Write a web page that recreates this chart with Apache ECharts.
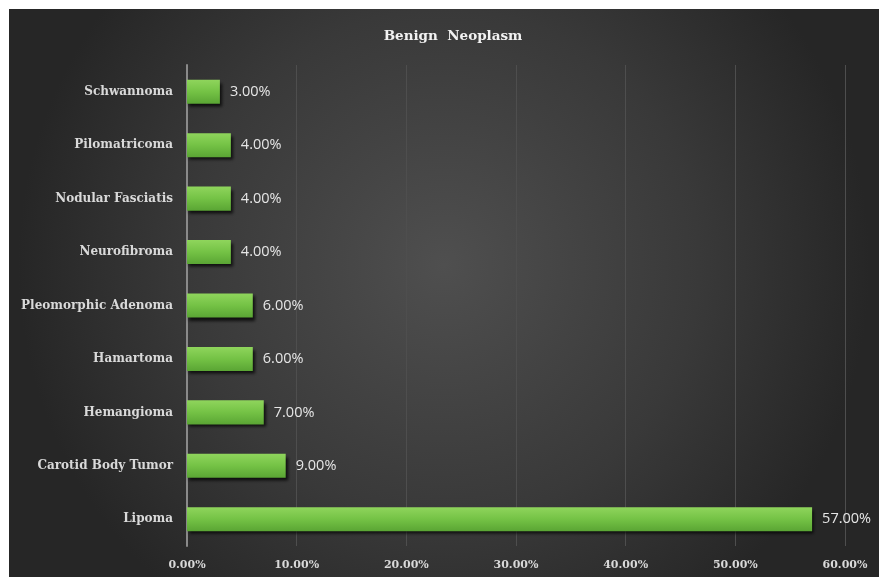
<!DOCTYPE html>
<html>
<head>
<meta charset="utf-8">
<title>Benign Neoplasm</title>
<script src="https://cdn.jsdelivr.net/npm/echarts@6/dist/echarts.min.js"></script>
<style>
  html, body { margin: 0; padding: 0; background: #ffffff; }
  #chart { width: 879px; height: 577px; }
</style>
</head>
<body>
<div id="chart"></div>
<script>
// Tumour types, listed bottom to top along the category axis
const categories = [
  'Lipoma', 'Carotid Body Tumor', 'Hemangioma', 'Hamartoma',
  'Pleomorphic Adenoma', 'Neurofibroma', 'Nodular Fasciatis',
  'Pilomatricoma', 'Schwannoma'
];
// Share of cases, percent
const shares = [57, 9, 7, 6, 6, 4, 4, 4, 3];
// Value axis tick range
const axisMin = 0;
const axisMax = 60;
const axisStep = 10;

const chart = echarts.init(document.getElementById('chart'), null, { renderer: 'canvas' });

const labelSerif = '"DejaVu Serif", "Liberation Serif", serif';

chart.setOption({
  backgroundColor: '#ffffff',
  animation: false,
  graphic: [{
    type: 'rect',
    left: 9, top: 9,
    shape: { width: 870, height: 568 },
    silent: true,
    z: -10,
    style: {
      fill: {
        type: 'radial', x: 0.5, y: 0.45, r: 0.75,
        colorStops: [
          { offset: 0, color: '#4f4f4f' },
          { offset: 0.6, color: '#393939' },
          { offset: 1, color: '#262626' }
        ]
      }
    }
  }],
  title: {
    text: 'Benign  Neoplasm',
    left: 448, top: 24,
    textAlign: 'center',
    textStyle: {
      color: '#f2f2f2',
      fontFamily: '"DejaVu Serif", serif',
      fontWeight: 'bold',
      fontSize: 13.5
    }
  },
  grid: { left: 187, right: 34, top: 65, bottom: 31, containLabel: false },
  xAxis: {
    type: 'value',
    min: axisMin, max: axisMax, interval: axisStep,
    axisLine: { show: false },
    axisTick: { show: false },
    splitLine: { show: true, lineStyle: { color: '#4e4e4e', width: 1 } },
    axisLabel: {
      color: '#d9d9d9',
      fontFamily: labelSerif,
      fontWeight: 'bold',
      fontSize: 11,
      margin: 14,
      formatter: v => v.toFixed(2) + '%'
    }
  },
  yAxis: {
    type: 'category',
    data: categories,
    axisLine: { show: true, lineStyle: { color: '#8a8a8a', width: 2 } },
    axisTick: { show: false },
    axisLabel: {
      color: '#d9d9d9',
      fontFamily: labelSerif,
      fontWeight: 'bold',
      fontSize: 12,
      margin: 14
    }
  },
  series: [{
    type: 'bar',
    data: shares,
    barWidth: '45%',
    itemStyle: {
      color: {
        type: 'linear', x: 0, y: 0, x2: 0, y2: 1,
        colorStops: [
          { offset: 0, color: '#8fd55c' },
          { offset: 0.5, color: '#74c245' },
          { offset: 1, color: '#5aa534' }
        ]
      },
      shadowColor: 'rgba(0,0,0,0.75)',
      shadowBlur: 3,
      shadowOffsetX: 2,
      shadowOffsetY: 3
    },
    label: {
      show: true,
      position: 'right',
      distance: 10,
      color: '#e6e6e6',
      fontFamily: '"Open Sans", "DejaVu Sans", sans-serif',
      fontSize: 14.5,
      formatter: p => p.value.toFixed(2) + '%'
    }
  }]
});
</script>
</body>
</html>
